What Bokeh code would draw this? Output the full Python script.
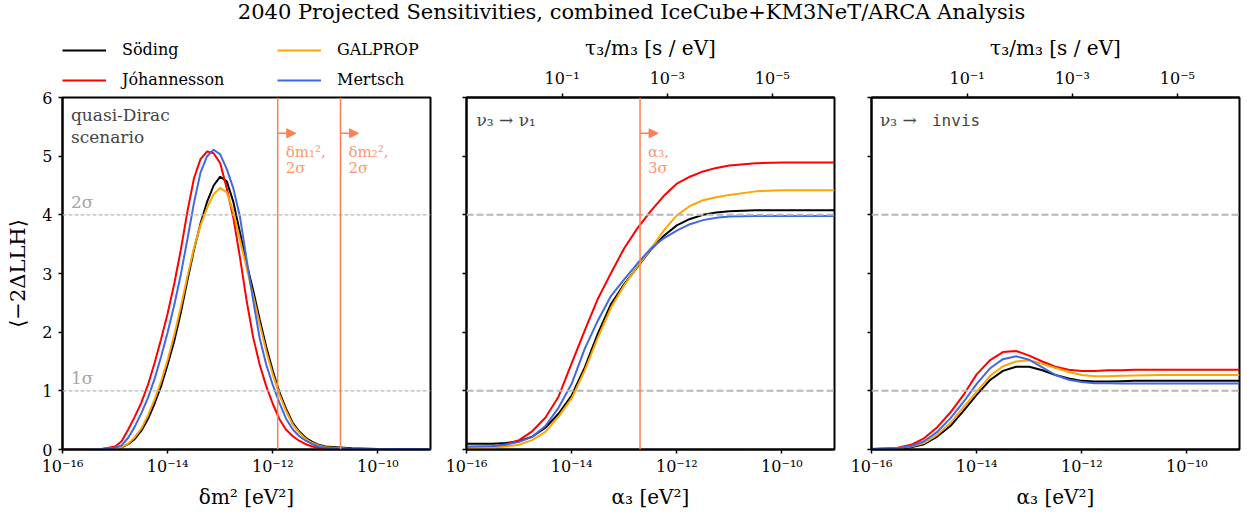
import numpy as np
from bokeh.plotting import figure
from bokeh.models import (Range1d, LogAxis, LogScale, FixedTicker, CustomJSTickFormatter,
                          Span, Label, Arrow, NormalHead, Legend, LegendItem, Div)
from bokeh.layouts import column, row
from bokeh.embed import file_html
from bokeh.resources import INLINE

TITLE = "2040 Projected Sensitivities, combined IceCube+KM3NeT/ARCA Analysis"
SERIES = ["Söding", "Jóhannesson", "GALPROP", "Mertsch"]
COLORS = ["black", "red", "orange", "royalblue"]
HBAR = 6.582e-16  # eV s, tau/m = hbar / alpha

# ---------------- panel 1: quasi-Dirac, x = delta m^2 ----------------
qd_logx = [-16, -15.5, -15.25, -15.0, -14.875, -14.75, -14.625, -14.5, -14.375, -14.25,
           -14.125, -14.0, -13.875, -13.75, -13.625, -13.5, -13.375, -13.25, -13.125, -13.0,
           -12.875, -12.75, -12.625, -12.5, -12.375, -12.25, -12.125, -12.0, -11.875, -11.75,
           -11.625, -11.5, -11.375, -11.25, -11.125, -11.0, -10.5, -10.0, -9.5, -9.0]
qd_soding = [0.0, 0.0, 0.01, 0.02, 0.035, 0.09, 0.18, 0.32, 0.52, 0.78,
             1.08, 1.45, 1.85, 2.33, 2.88, 3.40, 3.85, 4.22, 4.50, 4.65,
             4.57, 4.22, 3.70, 3.18, 2.72, 2.22, 1.75, 1.34, 0.98, 0.70,
             0.46, 0.31, 0.20, 0.13, 0.08, 0.05, 0.02, 0.01, 0.0, 0.0]
qd_johannesson = [0.0, 0.0, 0.01, 0.05, 0.14, 0.34, 0.56, 0.80, 1.10, 1.47,
                  1.88, 2.32, 2.82, 3.40, 4.05, 4.62, 4.95, 5.08, 5.05, 4.88,
                  4.45, 3.95, 3.28, 2.55, 1.92, 1.45, 1.08, 0.78, 0.52, 0.34,
                  0.23, 0.15, 0.09, 0.05, 0.03, 0.02, 0.005, 0.0, 0.0, 0.0]
qd_galprop = [0.0, 0.0, 0.01, 0.02, 0.04, 0.10, 0.21, 0.36, 0.58, 0.85,
              1.16, 1.53, 1.95, 2.43, 2.95, 3.43, 3.82, 4.12, 4.35, 4.46,
              4.38, 4.05, 3.58, 3.10, 2.63, 2.14, 1.68, 1.28, 0.94, 0.66,
              0.43, 0.29, 0.18, 0.11, 0.07, 0.04, 0.01, 0.0, 0.0, 0.0]
qd_mertsch = [0.0, 0.0, 0.01, 0.03, 0.07, 0.20, 0.39, 0.62, 0.88, 1.20,
              1.58, 2.00, 2.46, 2.98, 3.58, 4.20, 4.72, 5.00, 5.11, 5.03,
              4.78, 4.45, 3.97, 3.25, 2.55, 1.90, 1.45, 1.10, 0.80, 0.53,
              0.35, 0.23, 0.15, 0.09, 0.05, 0.03, 0.01, 0.01, 0.01, 0.01]
qd_limits = [1.24e-12, 1.94e-11]
qd_limit_labels = [("δm₁²,", "2σ"), ("δm₂²,", "2σ")]

# ---------------- panels 2 & 3: decay, x = alpha_3 ----------------
dec_logx = [-16, -15.5, -15.25, -15.0, -14.75, -14.5, -14.25, -14.0, -13.75, -13.5,
            -13.25, -13.0, -12.75, -12.5, -12.25, -12.0, -11.75, -11.5, -11.25, -11.0,
            -10.5, -10.0, -9.5, -9.0]
v1_soding = [0.10, 0.10, 0.11, 0.14, 0.22, 0.37, 0.61, 0.92, 1.40, 1.98,
             2.48, 2.82, 3.11, 3.40, 3.64, 3.82, 3.93, 4.00, 4.04, 4.06,
             4.08, 4.08, 4.08, 4.08]
v1_johannesson = [0.03, 0.05, 0.09, 0.16, 0.31, 0.54, 0.90, 1.47, 2.03, 2.57,
                  3.01, 3.43, 3.77, 4.06, 4.32, 4.53, 4.65, 4.74, 4.80, 4.84,
                  4.88, 4.89, 4.89, 4.89]
v1_galprop = [0.02, 0.03, 0.05, 0.08, 0.16, 0.30, 0.56, 0.87, 1.35, 1.91,
              2.42, 2.80, 3.12, 3.41, 3.73, 3.99, 4.15, 4.25, 4.30, 4.34,
              4.40, 4.42, 4.42, 4.42]
v1_mertsch = [0.05, 0.06, 0.08, 0.13, 0.215, 0.40, 0.71, 1.12, 1.72, 2.20,
              2.62, 2.90, 3.17, 3.42, 3.60, 3.73, 3.84, 3.91, 3.95, 3.97,
              3.98, 3.98, 3.98, 3.98]
v1_limit = 2.0e-13

inv_soding = [0.0, 0.01, 0.04, 0.09, 0.22, 0.40, 0.66, 0.93, 1.18, 1.34,
              1.41, 1.41, 1.35, 1.27, 1.21, 1.17, 1.16, 1.16, 1.165, 1.17,
              1.17, 1.17, 1.17, 1.17]
inv_johannesson = [0.01, 0.03, 0.08, 0.19, 0.38, 0.63, 0.93, 1.28, 1.52, 1.66,
                   1.68, 1.60, 1.50, 1.41, 1.36, 1.34, 1.34, 1.35, 1.35, 1.36,
                   1.36, 1.36, 1.36, 1.36]
inv_galprop = [0.0, 0.02, 0.05, 0.11, 0.25, 0.45, 0.72, 0.98, 1.25, 1.42,
               1.50, 1.52, 1.46, 1.39, 1.32, 1.27, 1.25, 1.25, 1.255, 1.26,
               1.27, 1.27, 1.27, 1.27]
inv_mertsch = [0.01, 0.02, 0.06, 0.14, 0.30, 0.53, 0.81, 1.12, 1.38, 1.54,
               1.59, 1.53, 1.40, 1.27, 1.19, 1.15, 1.13, 1.13, 1.125, 1.125,
               1.125, 1.125, 1.125, 1.125]

X_TICKS = [1e-16, 1e-14, 1e-12, 1e-10]
TAU_TICKS = [1e-1, 1e-3, 1e-5]
Y_TICKS = [0, 1, 2, 3, 4, 5, 6]
SIGMA_LEVELS = [(1, "1σ"), (4, "2σ")]

FONT = "DejaVu Serif"
CORAL = "#ff7f50"
GRAYL = "#b7b7b7"

SUP = """
const e = Math.round(Math.log10(tick));
const m = {"-": "⁻", "0": "⁰", "1": "¹", "2": "²", "3": "³", "4": "⁴", "5": "⁵", "6": "⁶", "7": "⁷", "8": "⁸", "9": "⁹"};
let s = "";
for (const c of String(e)) { s += m[c]; }
return "10" + s;
"""


def style_axis(ax, label_standoff=6):
    ax.axis_line_width = 2
    ax.axis_line_color = "black"
    ax.major_tick_line_width = 1.5
    ax.major_tick_in = 0
    ax.major_tick_out = 4
    ax.minor_tick_line_color = None
    ax.major_label_text_font = FONT
    ax.major_label_text_font_size = "16px"
    ax.major_label_text_color = "black"
    ax.major_label_standoff = label_standoff
    ax.axis_label_text_font = FONT
    ax.axis_label_text_font_size = "20px"
    ax.axis_label_text_font_style = "normal"
    ax.axis_label_text_color = "black"


def make_fig(width, height, top, left, right, xlabel, ylabel_on):
    p = figure(width=width, height=height, x_axis_type="log", title=None,
               x_range=Range1d(1e-16, 1e-9), y_range=Range1d(0, 6),
               output_backend="svg", toolbar_location=None,
               min_border_left=left, min_border_right=right,
               min_border_top=top, min_border_bottom=68)
    p.grid.visible = False
    p.outline_line_color = "black"
    p.outline_line_width = 2
    p.outline_line_alpha = 1
    p.background_fill_color = "white"
    p.border_fill_color = "white"
    xa = p.xaxis[0]
    xa.ticker = FixedTicker(ticks=X_TICKS)
    xa.formatter = CustomJSTickFormatter(code=SUP)
    xa.axis_label = xlabel
    style_axis(xa, 3)
    xa.axis_label_standoff = 6
    ya = p.yaxis[0]
    ya.ticker = FixedTicker(ticks=Y_TICKS)
    style_axis(ya, 6)
    if ylabel_on:
        ya.axis_label = "⟨−2ΔLLH⟩"
        ya.axis_label_standoff = 9
        ya.axis_label_text_font_size = "21px"
    else:
        ya.formatter = CustomJSTickFormatter(code="return '';")
    return p


def add_tau_axis(p):
    p.extra_x_ranges = {"tau": Range1d(start=HBAR / 1e-16, end=HBAR / 1e-9)}
    p.extra_x_scales = {"tau": LogScale()}
    ax = LogAxis(x_range_name="tau", ticker=FixedTicker(ticks=TAU_TICKS),
                 formatter=CustomJSTickFormatter(code=SUP),
                 axis_label="τ₃/m₃ [s / eV]")
    style_axis(ax, 6)
    ax.axis_label_standoff = 6
    p.add_layout(ax, "above")


def add_limit(p, xval, lines):
    p.add_layout(Span(location=xval, dimension="height", line_color=CORAL, line_width=1.5))
    p.add_layout(Arrow(x_start=xval, y_start=5.39, x_end=xval * 10 ** (18 / 52.5), y_end=5.39,
                       line_color=CORAL, line_width=1.5,
                       end=NormalHead(size=9, fill_color=CORAL, line_color=CORAL)))
    for i, t in enumerate(lines):
        p.add_layout(Label(x=xval, y=5.07 - 0.28 * i, text=t, x_offset=8,
                           text_font=FONT, text_font_size="15px", text_color=CORAL,
                           text_alpha=0.85, text_baseline="middle"))


def add_sigma_lines(p, width, dash):
    for lvl, _ in SIGMA_LEVELS:
        p.add_layout(Span(location=lvl, dimension="width", line_color=GRAYL,
                          line_width=width, line_dash=dash))


# ---------- legend strip above panel 1 ----------
lf = figure(width=436, height=59, x_range=Range1d(0, 1), y_range=Range1d(0, 1), title=None,
            x_axis_location=None, y_axis_location=None,
            output_backend="svg", toolbar_location=None,
            min_border_left=61, min_border_right=0, min_border_top=0, min_border_bottom=0)
lf.grid.visible = False
lf.outline_line_color = None
lf.background_fill_color = "white"
lf.border_fill_color = "white"
leg_rends = [lf.line(x=[np.nan, np.nan], y=[np.nan, np.nan], line_color=c, line_width=2)
             for c in COLORS]
legend = Legend(items=[LegendItem(label=s, renderers=[r]) for s, r in zip(SERIES, leg_rends)],
                location="bottom_left", orientation="vertical", ncols=2)
legend.border_line_color = None
legend.background_fill_alpha = 0
legend.label_text_font = FONT
legend.label_text_font_size = "16px"
legend.label_text_color = "black"
legend.glyph_width = 44
legend.glyph_height = 18
legend.label_height = 18
legend.label_standoff = 16
legend.label_width = 144
legend.spacing = 11
legend.padding = 2
legend.margin = 0
lf.add_layout(legend, "center")

# ---------- panel 1 ----------
p1 = make_fig(436, 428, 8, 62, 6, "δm² [eV²]", True)
add_sigma_lines(p1, 1.3, "4 2")
for lvl, txt in SIGMA_LEVELS:
    p1.add_layout(Label(x=1.45e-16, y=lvl + 0.05, text=txt, text_font=FONT,
                        text_font_size="17px", text_color="#a6a6a6", text_baseline="bottom"))
x1 = [10 ** v for v in qd_logx]
for ys, c in zip([qd_soding, qd_johannesson, qd_galprop, qd_mertsch], COLORS):
    p1.line(x1, ys, line_color=c, line_width=2)
for xv, lab in zip(qd_limits, qd_limit_labels):
    add_limit(p1, xv, lab)
p1.add_layout(Label(x=1.45e-16, y=5.70, text="quasi-Dirac", text_font=FONT,
                    text_font_size="17px", text_baseline="middle"))
p1.add_layout(Label(x=1.45e-16, y=5.32, text="scenario", text_font=FONT,
                    text_font_size="17px", text_baseline="middle"))

# ---------- panel 2 ----------
p2 = make_fig(405, 487, 67, 30, 7, "α₃ [eV²]", False)
add_tau_axis(p2)
add_sigma_lines(p2, 2, "7 3")
x2 = [10 ** v for v in dec_logx]
for ys, c in zip([v1_soding, v1_johannesson, v1_galprop, v1_mertsch], COLORS):
    p2.line(x2, ys, line_color=c, line_width=2)
add_limit(p2, v1_limit, ("α₃,", "3σ"))
p2.add_layout(Label(x=1.55e-16, y=5.61, text="ν₃ → ν₁", text_font=FONT,
                    text_font_size="17px", text_baseline="middle"))

# ---------- panel 3 ----------
p3 = make_fig(406, 487, 67, 30, 8, "α₃ [eV²]", False)
add_tau_axis(p3)
add_sigma_lines(p3, 2, "7 3")
for ys, c in zip([inv_soding, inv_johannesson, inv_galprop, inv_mertsch], COLORS):
    p3.line(x2, ys, line_color=c, line_width=2)
p3.add_layout(Label(x=1.45e-16, y=5.61, text="ν₃ →", text_font=FONT,
                    text_font_size="17px", text_baseline="middle"))
p3.add_layout(Label(x=1.45e-16, y=5.61, text="invis", x_offset=52, text_font="DejaVu Sans Mono",
                    text_font_size="16px", text_baseline="middle"))

title = Div(text=TITLE, width=1247, height=30, margin=(0, 0, 0, 0),
            styles={"font-family": "DejaVu Serif", "font-size": "21px",
                    "text-align": "center", "line-height": "24px", "color": "black",
                    "width": "1247px", "padding-left": "16px", "box-sizing": "border-box"})

layout = column(title, row(column(lf, p1, spacing=0), p2, p3, spacing=0), spacing=0)
open("out.html", "w").write(file_html(layout, INLINE))
